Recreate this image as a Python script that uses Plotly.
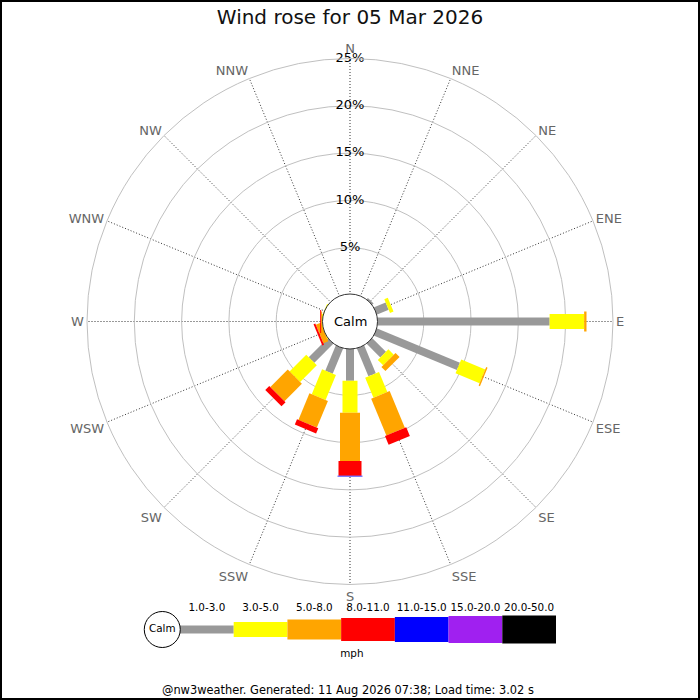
import plotly.graph_objects as go

directions = ['N', 'NNE', 'NE', 'ENE', 'E', 'ESE', 'SE', 'SSE',
              'S', 'SSW', 'SW', 'WSW', 'W', 'WNW', 'NW', 'NNW']

bin_labels = ['1.0-3.0', '3.0-5.0', '5.0-8.0', '8.0-11.0', '11.0-15.0', '15.0-20.0', '20.0-50.0']
bin_colors = ['#999999', '#ffff00', '#ffa500', '#ff0000', '#0000ff', '#a020f0', '#000000']
bin_widths = [8, 15, 20, 23, 25, 27, 28]

# percent frequency per direction per speed bin (mph)
pct_1_3   = [0, 0, 0.3, 1.45, 18.3, 9.6, 2.15, 3.3, 3.45, 3.0, 2.95, 0, 0, 0, 0, 0]
pct_3_5   = [0, 0, 0, 0.4, 3.65, 2.75, 0.8, 2.3, 3.4, 2.85, 2.5, 0.12, 0.15, 0.15, 0, 0]
pct_5_8   = [0, 0, 0, 0, 0.25, 0.15, 0.6, 4.2, 5.1, 3.05, 2.6, 0.55, 0.1, 0, 0, 0]
pct_8_11  = [0, 0, 0, 0, 0, 0, 0, 1.0, 1.55, 0.6, 0.6, 0.2, 0.1, 0, 0, 0]
pct_11_15 = [0, 0, 0, 0, 0, 0, 0, 0, 0.08, 0, 0, 0, 0, 0, 0, 0]
pct_15_20 = [0] * 16
pct_20_50 = [0] * 16
series = [pct_1_3, pct_3_5, pct_5_8, pct_8_11, pct_11_15, pct_15_20, pct_20_50]

radial_ticks = [5, 10, 15, 20, 25]
radial_tick_text = ['5%', '10%', '15%', '20%', '25%']

FONT = 'DejaVu Sans'
fig = go.Figure()

cum = [0.0] * 16
for vals, col, w in zip(series, bin_colors, bin_widths):
    rr, tt = [], []
    for i, d in enumerate(directions):
        if vals[i] > 0:
            rr += [cum[i], cum[i] + vals[i], None]
            tt += [d, d, None]
            cum[i] += vals[i]
    if rr:
        fig.add_trace(go.Scatterpolar(r=rr, theta=tt, mode='lines',
                                      line=dict(color=col, width=w),
                                      hoverinfo='skip', showlegend=False))

fig.add_trace(go.Scatterpolar(r=radial_ticks, theta=['N'] * len(radial_ticks),
                              mode='text', text=radial_tick_text,
                              textposition='middle center',
                              textfont=dict(family=FONT, size=13, color='#000000'),
                              hoverinfo='skip', showlegend=False))

# legend strip (cartesian)
for i, (col, w) in enumerate(zip(bin_colors, bin_widths)):
    fig.add_trace(go.Scatter(x=[i, i + 1], y=[0, 0], mode='lines',
                             line=dict(color=col, width=w),
                             xaxis='x', yaxis='y', hoverinfo='skip', showlegend=False))
fig.add_trace(go.Scatter(x=[i + 0.5 for i in range(len(bin_labels))], y=[0.7] * len(bin_labels),
                         mode='text', text=bin_labels,
                         textfont=dict(family=FONT, size=10.4, color='#000000'),
                         xaxis='x', yaxis='y', hoverinfo='skip', showlegend=False))
fig.add_trace(go.Scatter(x=[3.2], y=[-0.83], mode='text', text=['mph'],
                         textfont=dict(family=FONT, size=10.4, color='#000000'),
                         xaxis='x', yaxis='y', hoverinfo='skip', showlegend=False))
fig.add_trace(go.Scatter(x=[-0.33], y=[0], mode='markers+text', text=['Calm'],
                         textposition='middle center',
                         textfont=dict(family=FONT, size=10.4, color='#000000'),
                         marker=dict(size=36, color='white', line=dict(color='black', width=1)),
                         xaxis='x', yaxis='y', hoverinfo='skip', showlegend=False))

cx, cy, R = 350 / 700, 1 - 321.5 / 700, 27.5 / 700

fig.update_layout(
    width=700, height=700,
    margin=dict(l=0, r=0, t=0, b=0),
    paper_bgcolor='white', plot_bgcolor='white',
    font=dict(family=FONT),
    title=dict(text='Wind rose for 05 Mar 2026', x=0.5, xanchor='center',
               y=1 - 17 / 700, yanchor='middle',
               font=dict(family=FONT, size=20, color='#111111')),
    polar=dict(
        domain=dict(x=[87 / 700, 613 / 700], y=[1 - 584.5 / 700, 1 - 58.5 / 700]),
        hole=26.5 / 263,
        bgcolor='white',
        radialaxis=dict(range=[0, 25], tickvals=radial_ticks, showticklabels=False,
                        ticks='', showline=False, gridcolor='#c0c0c0', gridwidth=1),
        angularaxis=dict(type='category', categoryarray=directions,
                         direction='clockwise', rotation=90,
                         showline=True, linecolor='#c0c0c0', linewidth=1,
                         gridcolor='#333333', griddash='1px,2px', gridwidth=1,
                         ticks='', tickfont=dict(family=FONT, size=13, color='#666666')),
    ),
    xaxis=dict(domain=[140 / 700, 556 / 700], range=[-40 / 53.714, 7], visible=False, fixedrange=True),
    yaxis=dict(domain=[1 - 659.5 / 700, 1 - 599.5 / 700], range=[-1, 1], visible=False, fixedrange=True),
    shapes=[
        dict(type='circle', xref='paper', yref='paper', x0=cx - R, x1=cx + R, y0=cy - R, y1=cy + R,
             fillcolor='white', line=dict(color='#333333', width=1), layer='above'),
        dict(type='rect', xref='paper', yref='paper', x0=0, x1=1, y0=0, y1=1,
             line=dict(color='black', width=4), fillcolor='rgba(0,0,0,0)', layer='above'),
    ],
    annotations=[
        dict(text='Calm', xref='paper', yref='paper', x=cx, y=cy, showarrow=False,
             xanchor='center', yanchor='middle', font=dict(family=FONT, size=13, color='#000000')),
        dict(text='@nw3weather. Generated: 11 Aug 2026 07:38; Load time: 3.02 s',
             xref='paper', yref='paper', x=348 / 700, y=1 - 690 / 700, showarrow=False,
             xanchor='center', yanchor='middle', font=dict(family=FONT, size=11.4, color='#000000')),
    ],
)

fig.write_html('out.html', config={'displayModeBar': False},
               post_script="document.body.style.margin='0';document.body.style.overflow='hidden';")
